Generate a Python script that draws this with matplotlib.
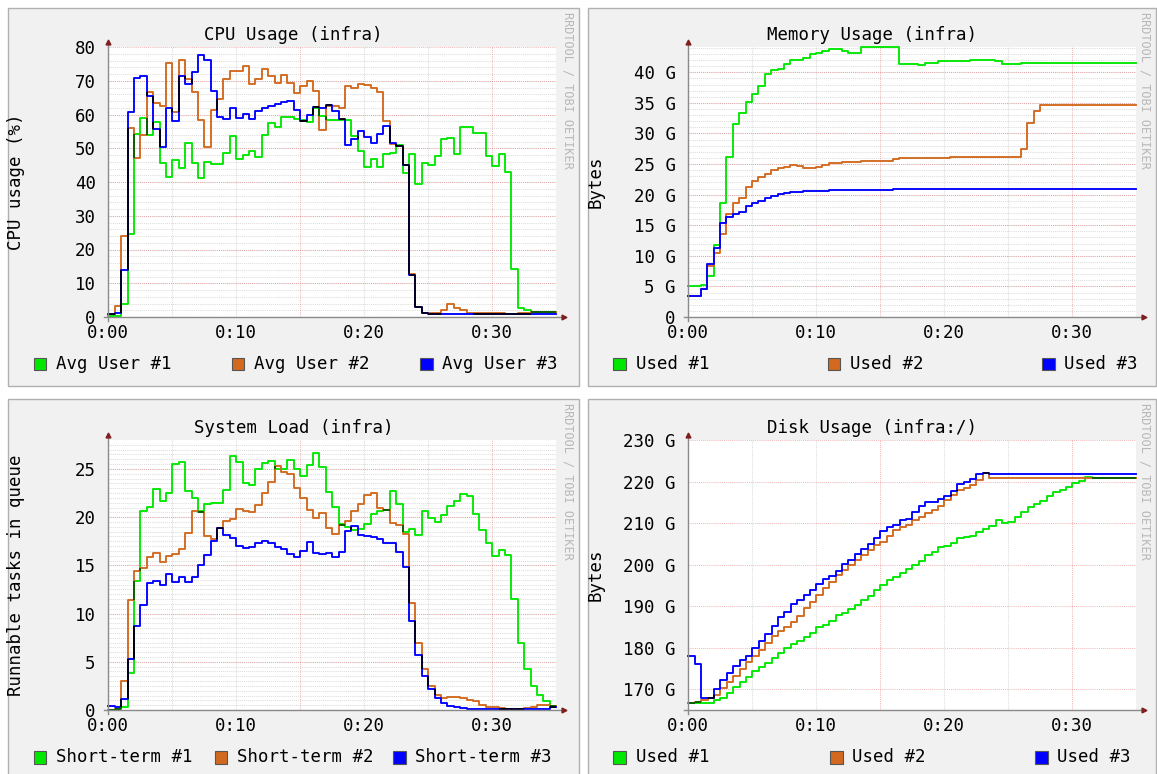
import matplotlib
matplotlib.use("Agg")
import matplotlib.pyplot as plt
from matplotlib.patches import Rectangle
from matplotlib.collections import LineCollection
from matplotlib.colors import to_rgb
import numpy as np

# canvas size in pixels (dpi 100)
W, H = 1157, 774
STEP = 0.5          # one sample every 30 s, x axis in minutes
N_STEPS = 70

x_ticks = [0, 10, 20, 30]
x_tick_labels = ["0:00", "0:10", "0:20", "0:30"]

# ---- CPU usage (%) ----
cpu_user_1 = [0.4, 0.4, 3.8, 24.6, 54.3, 58.9, 54.0, 57.9, 45.5, 41.6,
              46.5, 44.1, 51.7, 45.7, 41.3, 45.8, 45.3, 45.3, 48.5, 53.7,
              46.8, 48.0, 49.2, 47.5, 53.8, 57.4, 56.4, 59.2, 59.4, 58.7,
              58.4, 57.7, 61.9, 59.5, 58.5, 58.4, 58.4, 58.4, 53.7, 49.2,
              44.3, 46.8, 44.3, 48.2, 48.5, 51.0, 42.6, 48.3, 39.4, 45.7,
              45.0, 47.7, 52.8, 52.9, 48.3, 56.2, 56.4, 54.5, 54.5, 47.7,
              44.6, 48.3, 42.9, 14.3, 2.7, 2.0, 1.5, 1.5, 1.5, 1.5]
cpu_user_2 = [1.0, 3.3, 24.0, 56.0, 47.0, 53.8, 66.8, 63.4, 62.4, 75.4,
              60.6, 76.2, 70.6, 66.6, 58.4, 50.5, 61.4, 64.7, 70.5, 72.8,
              73.0, 74.3, 69.0, 70.5, 73.5, 71.5, 69.3, 71.8, 69.3, 66.3,
              68.3, 69.8, 67.1, 55.4, 62.6, 62.6, 61.9, 68.3, 67.8, 69.0,
              68.6, 67.8, 66.8, 58.1, 51.2, 50.7, 44.9, 12.6, 3.0, 1.3,
              1.2, 1.2, 2.2, 4.0, 2.7, 2.2, 1.2, 1.2, 1.1, 1.1,
              1.1, 1.1, 1.0, 1.0, 1.2, 1.3, 1.4, 1.4, 1.4, 1.4]
cpu_user_3 = [0.8, 1.2, 14.0, 60.6, 70.8, 71.3, 65.5, 55.6, 50.3, 62.0,
              58.2, 71.5, 69.0, 72.6, 77.5, 76.2, 67.0, 59.2, 58.6, 61.9,
              58.9, 60.2, 58.7, 61.1, 61.9, 62.4, 63.2, 63.7, 63.9, 61.2,
              58.1, 59.9, 62.2, 62.0, 62.9, 60.9, 58.6, 51.0, 52.7, 55.2,
              53.2, 51.5, 54.2, 56.6, 51.7, 50.7, 44.9, 12.4, 3.0, 1.2,
              1.0, 1.0, 1.0, 0.9, 0.8, 0.8, 0.8, 1.0, 1.0, 1.0,
              1.0, 1.0, 1.0, 1.0, 1.0, 1.0, 1.0, 0.9, 0.9, 0.9]
cpu_ticks = [0, 10, 20, 30, 40, 50, 60, 70, 80]
cpu_tick_labels = ["0", "10", "20", "30", "40", "50", "60", "70", "80"]

# ---- Memory used (GB) ----
mem_used_1 = [5.0, 5.0, 5.2, 6.7, 11.8, 18.7, 26.2, 31.5, 33.3, 35.2,
              36.4, 37.8, 39.8, 40.3, 40.6, 41.4, 42.0, 42.0, 42.4, 43.0,
              43.1, 43.5, 43.8, 43.8, 43.5, 43.2, 43.1, 44.1, 44.1, 44.1,
              44.1, 44.1, 44.1, 41.4, 41.4, 41.4, 41.2, 41.6, 41.6, 41.8,
              41.8, 41.9, 41.9, 41.9, 42.0, 42.0, 42.0, 42.0, 41.9, 41.4,
              41.4, 41.4, 41.5, 41.5, 41.5, 41.5, 41.5, 41.5, 41.5, 41.5,
              41.5, 41.5, 41.5, 41.5, 41.5, 41.5, 41.5, 41.5, 41.5, 41.5]
mem_used_2 = [3.4, 3.4, 4.6, 8.4, 10.5, 13.5, 16.9, 18.6, 19.5, 21.3,
              22.3, 22.9, 23.3, 24.0, 24.3, 24.6, 24.8, 24.7, 24.3, 24.4,
              24.6, 24.8, 25.1, 25.2, 25.3, 25.4, 25.4, 25.5, 25.5, 25.5,
              25.5, 25.5, 25.8, 26.0, 26.0, 26.0, 26.0, 26.0, 26.0, 26.0,
              26.0, 26.1, 26.1, 26.1, 26.1, 26.1, 26.2, 26.2, 26.2, 26.2,
              26.2, 26.2, 27.5, 31.7, 33.7, 34.7, 34.7, 34.7, 34.7, 34.7,
              34.7, 34.7, 34.7, 34.7, 34.7, 34.7, 34.7, 34.7, 34.7, 34.7]
mem_used_3 = [3.4, 3.4, 4.6, 8.7, 11.2, 15.4, 16.4, 16.8, 17.2, 18.1,
              18.6, 19.0, 19.4, 19.8, 20.1, 20.2, 20.4, 20.4, 20.6, 20.6,
              20.6, 20.6, 20.7, 20.7, 20.7, 20.7, 20.8, 20.8, 20.8, 20.8,
              20.8, 20.8, 20.85, 20.85, 20.9, 20.9, 20.9, 20.9, 20.95, 20.95,
              21.0, 21.0, 21.0, 21.0, 21.0, 21.0, 21.0, 21.0, 21.0, 21.0,
              21.0, 21.0, 21.0, 21.0, 21.0, 21.0, 21.0, 21.0, 21.0, 21.0,
              21.0, 21.0, 21.0, 21.0, 21.0, 21.0, 21.0, 21.0, 21.0, 21.0]
mem_ticks = [0, 5, 10, 15, 20, 25, 30, 35, 40]
mem_tick_labels = ["0", "5 G", "10 G", "15 G", "20 G", "25 G", "30 G", "35 G", "40 G"]

# ---- System load ----
load_short_1 = [0.0, 0.1, 0.35, 3.85, 13.4, 20.6, 21.1, 22.9, 21.7, 22.5,
                25.5, 25.7, 22.7, 22.0, 20.6, 21.4, 21.5, 21.5, 22.8, 26.3,
                25.7, 23.5, 23.3, 25.0, 25.6, 25.8, 25.0, 25.0, 25.9, 25.0,
                24.3, 25.4, 26.7, 25.2, 22.6, 21.1, 19.3, 19.0, 18.7, 18.8,
                19.3, 20.3, 20.6, 20.7, 22.7, 21.4, 18.5, 18.8, 18.2, 20.6,
                19.9, 19.5, 20.2, 21.2, 21.7, 22.4, 22.2, 20.3, 18.7, 17.3,
                16.0, 16.6, 16.1, 11.5, 7.0, 4.3, 2.5, 1.6, 0.9, 0.45]
load_short_2 = [0.0, 0.1, 3.05, 11.4, 14.4, 14.7, 15.9, 16.3, 15.3, 16.0,
                16.2, 16.7, 18.4, 20.6, 20.5, 18.0, 17.7, 18.9, 19.6, 19.8,
                20.8, 20.6, 20.5, 21.3, 22.5, 23.6, 25.3, 24.7, 24.5, 23.0,
                22.0, 20.7, 19.9, 20.4, 18.9, 18.3, 19.2, 19.6, 20.6, 21.4,
                22.3, 22.5, 21.0, 20.7, 19.4, 19.2, 18.3, 11.1, 7.0, 4.3,
                2.5, 1.6, 1.2, 1.3, 1.4, 1.2, 1.0, 0.9, 0.55, 0.35,
                0.3, 0.17, 0.1, 0.07, 0.07, 0.2, 0.35, 0.55, 0.55, 0.4]
load_short_3 = [0.45, 0.28, 1.15, 5.3, 8.7, 10.9, 13.2, 13.4, 13.0, 14.1,
                13.3, 13.8, 13.3, 13.8, 15.0, 16.1, 17.5, 18.9, 18.2, 17.8,
                17.0, 16.8, 16.9, 17.3, 17.5, 17.3, 16.9, 16.7, 16.2, 15.9,
                16.5, 17.4, 16.3, 16.2, 16.3, 15.9, 16.4, 18.6, 19.1, 18.1,
                18.0, 17.9, 17.7, 17.3, 17.3, 16.4, 14.8, 9.2, 5.7, 3.5,
                2.2, 1.25, 0.7, 0.45, 0.28, 0.17, 0.1, 0.08, 0.07, 0.07,
                0.07, 0.07, 0.07, 0.07, 0.07, 0.07, 0.07, 0.08, 0.1, 0.28]
load_ticks = [0, 5, 10, 15, 20, 25]
load_tick_labels = ["0", "5", "10", "15", "20", "25"]

# ---- Disk used (GB) ----
disk_used_1 = [166.8, 166.8, 166.8, 166.8, 167.4, 167.8, 169.0, 170.6, 171.8, 173.0,
               174.3, 175.3, 176.4, 177.6, 178.8, 179.9, 180.8, 181.5, 182.5, 183.6,
               184.9, 185.5, 186.5, 187.9, 188.4, 189.3, 190.3, 191.5, 192.5, 193.9,
               195.1, 196.3, 197.1, 197.9, 198.9, 199.9, 200.9, 202.2, 203.1, 204.2,
               204.5, 205.1, 206.3, 206.6, 206.9, 207.8, 208.6, 209.3, 210.7, 210.1,
               210.3, 211.5, 212.7, 213.8, 214.6, 215.4, 216.4, 217.6, 218.0, 218.8,
               219.6, 220.1, 221.2, 220.8, 220.8, 220.8, 220.8, 220.8, 220.8, 220.8]
disk_used_2 = [166.8, 167.0, 167.3, 167.8, 168.6, 170.2, 171.7, 173.3, 174.9, 176.5,
               178.0, 179.5, 181.1, 182.7, 183.9, 184.9, 186.3, 187.7, 189.5, 191.1,
               192.7, 194.3, 195.9, 197.5, 198.7, 199.9, 201.1, 202.3, 203.5, 204.7,
               205.5, 206.9, 208.3, 209.1, 209.5, 210.7, 211.4, 212.5, 213.1, 214.1,
               215.5, 216.8, 218.0, 218.5, 219.2, 220.4, 222.0, 220.8, 220.8, 220.8,
               220.8, 220.8, 220.8, 220.8, 220.8, 220.8, 220.8, 220.8, 220.8, 220.8,
               220.8, 220.8, 220.8, 220.8, 220.8, 220.8, 220.8, 220.8, 220.8, 220.8]
disk_used_3 = [178.0, 176.0, 168.0, 168.0, 170.0, 172.2, 173.8, 175.5, 177.1, 178.1,
               179.9, 181.7, 183.3, 185.3, 187.3, 188.7, 190.5, 191.5, 192.7, 193.9,
               195.3, 196.5, 197.3, 198.5, 200.1, 201.1, 202.5, 203.7, 205.0, 206.5,
               208.1, 209.1, 209.5, 210.7, 211.0, 212.7, 214.0, 215.0, 215.1, 215.8,
               216.4, 217.7, 219.4, 219.8, 220.6, 221.8, 222.1, 221.8, 221.8, 221.8,
               221.8, 221.8, 221.8, 221.8, 221.8, 221.8, 221.8, 221.8, 221.8, 221.8,
               221.8, 221.8, 221.8, 221.8, 221.8, 221.8, 221.8, 221.8, 221.8, 221.8]
disk_ticks = [170, 180, 190, 200, 210, 220, 230]
disk_tick_labels = ["170 G", "180 G", "190 G", "200 G", "210 G", "220 G", "230 G"]

# rrdtool-like colours
GREEN = "#00e800"
ORANGE = "#d2691e"
BLUE = "#0000ff"
COLORS = [GREEN, ORANGE, BLUE]
BACK = "#f1f1f1"
GRID = (0.56, 0.56, 0.56, 0.3)
MGRID = (0.87, 0.31, 0.31, 0.38)
AXIS = "#8a8a8a"
ARROW = "#7f1f1f"

PW, PH = 448, 270   # plot area in pixels
FS = 12.5

plt.rcParams["font.family"] = ["DejaVu Sans Mono"]
fig = plt.figure(figsize=(W / 100, H / 100), dpi=100)
fig.patch.set_facecolor("white")


def fpos(x, y):
    # pixel position (origin top-left) -> figure fraction
    return x / W, 1 - y / H


def overlap_segments(t, a, b, tol):
    # parts of two step lines that lie on top of each other
    segs = []
    for i in range(len(a)):
        if abs(a[i] - b[i]) <= tol:
            segs.append([(t[i], b[i]), (t[i + 1], b[i])])
    for i in range(1, len(a)):
        lo = max(min(a[i - 1], a[i]), min(b[i - 1], b[i]))
        hi = min(max(a[i - 1], a[i]), max(b[i - 1], b[i]))
        if hi - lo > tol:
            segs.append([(t[i], lo), (t[i], hi)])
    return segs


def draw_panel(box, origin, title, ylabel, ylim, yticks, yticklabels, yminor,
               series, names, swatch_x, text_x, darken=True):
    bx0, by0, bx1, by1 = box
    fig.add_artist(Rectangle(fpos(bx0, by1), (bx1 - bx0) / W, (by1 - by0) / H,
                             transform=fig.transFigure, facecolor=BACK,
                             edgecolor="#b0b0b0", lw=1.0, zorder=0))
    left, top = origin
    ax = fig.add_axes([left / W, 1 - (top + PH) / H, PW / W, PH / H])
    ax.set_facecolor("white")
    ax.set_xlim(0, N_STEPS * STEP)
    ax.set_ylim(*ylim)
    for s in ax.spines.values():
        s.set_visible(False)

    # grid: minor grey, major red, dotted
    if yminor:
        for v in np.arange(ylim[0], ylim[1], yminor):
            ax.axhline(v, color=GRID, lw=0.75, ls=(0, (1, 1)), zorder=1)
    for v in yticks:
        ax.axhline(v, color=MGRID, lw=0.75, ls=(0, (1, 1)), zorder=1)
    for m in range(5, 35, 5):
        ax.axvline(m, color=MGRID if m % 15 == 0 else GRID, lw=0.75,
                   ls=(0, (1, 1)), zorder=1)

    # data lines
    t = np.arange(N_STEPS + 1) * STEP
    ext = [list(v) + [v[-1]] for v in series]
    for y, c in zip(ext, COLORS):
        ax.step(t, y, where="post", color=c, lw=1.35, zorder=3, clip_on=False)

    # where two lines coincide rrdtool shows them darker
    if darken:
        tol = 1.2 * (ylim[1] - ylim[0]) / PH
        for i, j in [(0, 1), (0, 2), (1, 2)]:
            segs = overlap_segments(t, series[i], series[j], tol)
            if segs:
                c = tuple(np.array(to_rgb(COLORS[i])) * np.array(to_rgb(COLORS[j])))
                ax.add_collection(LineCollection(segs, colors=[c], lw=1.35,
                                                 zorder=4, clip_on=False))

    # axes with small arrows
    ax.plot([-4 / PW, 1 + 6 / PW], [0, 0], color=AXIS, lw=1, transform=ax.transAxes,
            clip_on=False, zorder=5)
    ax.plot([0, 0], [-4 / PH, 1 + 4 / PH], color=AXIS, lw=1, transform=ax.transAxes,
            clip_on=False, zorder=5)
    ax.plot([1 + 8 / PW], [0], marker=">", ms=3.5, color=ARROW, mec=ARROW,
            transform=ax.transAxes, clip_on=False, zorder=6)
    ax.plot([0], [1 + 5 / PH], marker="^", ms=3.5, color=ARROW, mec=ARROW,
            transform=ax.transAxes, clip_on=False, zorder=6)

    ax.set_xticks(x_ticks, x_tick_labels)
    ax.set_yticks(yticks, yticklabels)
    ax.tick_params(length=0, labelsize=FS)
    ax.tick_params(axis="y", pad=9)
    ax.tick_params(axis="x", pad=5)

    cx = (bx0 + bx1) / 2
    fig.text(*fpos(cx, top - 12), title, fontsize=FS, ha="center", va="center")
    fig.text(*fpos(bx0 + 8, top + 135), ylabel, fontsize=FS, rotation=90,
             ha="center", va="center")
    fig.text(*fpos(bx1 - 11, by0 + 4), "RRDTOOL / TOBI OETIKER", fontsize=8.5,
             rotation=270, ha="center", va="top", color="#b8b8b8")

    # legend
    ly = top + PH + 47
    for name, c, sx, tx in zip(names, COLORS, swatch_x, text_x):
        fig.add_artist(Rectangle(fpos(sx, ly + 6.5), 12.5 / W, 12.5 / H,
                                 transform=fig.transFigure, facecolor=c,
                                 edgecolor="#555555", lw=0.8))
        fig.text(*fpos(tx, ly), name, fontsize=FS, ha="left", va="center")


draw_panel((8, 8, 579, 386), (108.3, 47), "CPU Usage (infra)", "CPU usage (%)",
           (0, 80), cpu_ticks, cpu_tick_labels, 2,
           [cpu_user_1, cpu_user_2, cpu_user_3],
           ["Avg User #1", "Avg User #2", "Avg User #3"],
           [33.5, 231.5, 420], [55.5, 254, 442.5])

draw_panel((588, 8, 1156, 386), (688, 47), "Memory Usage (infra)", "Bytes",
           (0, 44.14), mem_ticks, mem_tick_labels, 1,
           [mem_used_1, mem_used_2, mem_used_3],
           ["Used #1", "Used #2", "Used #3"],
           [613, 827.5, 1042], [635.5, 850, 1064.5], darken=False)

draw_panel((8, 399, 579, 790), (108.3, 440), "System Load (infra)",
           "Runnable tasks in queue",
           (0, 28), load_ticks, load_tick_labels, 0.5,
           [load_short_1, load_short_2, load_short_3],
           ["Short-term #1", "Short-term #2", "Short-term #3"],
           [33.5, 215, 393], [55.5, 237, 415])

draw_panel((588, 399, 1156, 790), (688.3, 440), "Disk Usage (infra:/)", "Bytes",
           (165, 230), disk_ticks, disk_tick_labels, None,
           [disk_used_1, disk_used_2, disk_used_3],
           ["Used #1", "Used #2", "Used #3"],
           [613, 830, 1035], [635.5, 852, 1057])

fig.savefig("out.png", dpi=100, facecolor=fig.get_facecolor())
